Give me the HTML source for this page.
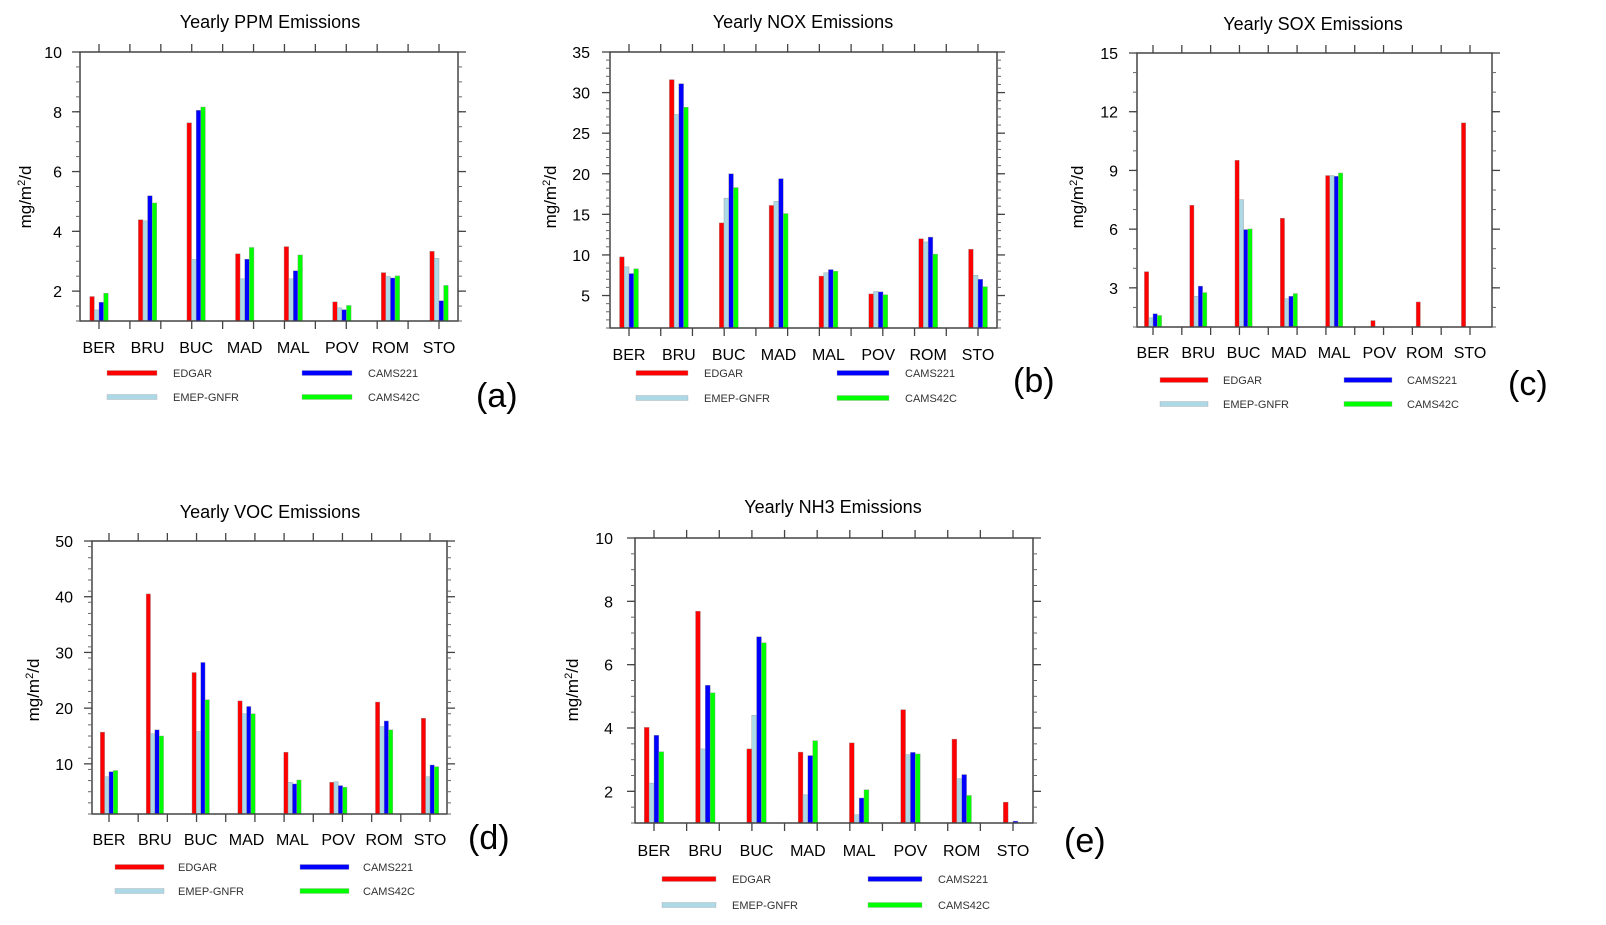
<!DOCTYPE html>
<html><head><meta charset="utf-8">
<style>
html,body{margin:0;padding:0;background:#fff;}
svg{display:block;font-family:"Liberation Sans",Arial,sans-serif;}
</style></head>
<body>
<svg id="fig" width="1606" height="925" viewBox="0 0 1606 925" xmlns="http://www.w3.org/2000/svg"></svg>
<script>
const categories = ["BER","BRU","BUC","MAD","MAL","POV","ROM","STO"];
const seriesNames = ["EDGAR","EMEP-GNFR","CAMS221","CAMS42C"];
const seriesColors = ["#ff0000","#add8e6","#0000ff","#00ff00"];

const ppmEDGAR   = [1.82,4.39,7.63,3.25,3.49,1.64,2.62,3.33];
const ppmEMEP    = [1.37,4.35,3.06,2.41,2.41,1.44,2.49,3.10];
const ppmCAMS221 = [1.63,5.19,8.05,3.07,2.68,1.38,2.44,1.68];
const ppmCAMS42C = [1.93,4.95,8.16,3.46,3.21,1.52,2.51,2.19];

const noxEDGAR   = [9.76,31.6,13.95,16.1,7.4,5.2,12.0,10.7];
const noxEMEP    = [8.53,27.3,17.0,16.6,7.8,5.5,11.6,7.5];
const noxCAMS221 = [7.71,31.1,20.0,19.4,8.2,5.45,12.2,7.0];
const noxCAMS42C = [8.29,28.2,18.3,15.1,8.0,5.1,10.1,6.1];

const soxEDGAR   = [3.83,7.22,9.52,6.56,8.74,1.33,2.28,11.43];
const soxEMEP    = [1.47,2.57,7.51,2.44,8.74,0,0,1.02];
const soxCAMS221 = [1.68,3.09,5.98,2.57,8.70,0,0,0];
const soxCAMS42C = [1.59,2.76,6.01,2.71,8.87,0,0,0];

const vocEDGAR   = [15.7,40.5,26.4,21.3,12.1,6.7,21.1,18.2];
const vocEMEP    = [7.7,15.4,15.8,19.0,6.7,6.8,16.7,7.7];
const vocCAMS221 = [8.6,16.1,28.2,20.3,6.4,6.1,17.7,9.8];
const vocCAMS42C = [8.8,15.0,21.5,19.0,7.1,5.8,16.1,9.5];

const nh3EDGAR   = [4.02,7.69,3.34,3.24,3.53,4.58,3.65,1.66];
const nh3EMEP    = [2.26,3.34,4.40,1.89,1.26,3.16,2.40,0];
const nh3CAMS221 = [3.77,5.35,6.88,3.13,1.79,3.23,2.53,1.06];
const nh3CAMS42C = [3.25,5.11,6.69,3.60,2.05,3.18,1.87,0];

const ppmTicks = [2,4,6,8,10];
const noxTicks = [5,10,15,20,25,30,35];
const soxTicks = [3,6,9,12,15];
const vocTicks = [10,20,30,40,50];
const nh3Ticks = [2,4,6,8,10];

const NS = "http://www.w3.org/2000/svg";
const svg = document.getElementById('fig');
function mk(tag, attrs, parent, text){
  const e = document.createElementNS(NS, tag);
  for (const k in attrs) e.setAttribute(k, attrs[k]);
  if (text !== undefined) e.textContent = text;
  (parent||svg).appendChild(e);
  return e;
}

function panel(p){
  const g = mk('g', {});
  
  
  const yScale = v => p.bottom - (v - p.ymin) / (p.ymax - p.ymin) * (p.bottom - p.top);
  const c0 = p.c0, c1 = p.c1, sp = (c1 - c0) / (categories.length - 1);
  const xScale = i => c0 + i * sp;
  const gw = sp * 0.38, bw = gw / 4;

  // title
  const t = mk('text', {x:p.tx, y:p.ty, 'text-anchor':'middle', 'font-size':18, fill:'#000'}, g, p.title);
  
  

  // bars
  p.series.forEach((arr, s) => {
    arr.forEach((v, i) => {
      if (v <= p.ymin) return;
      const x = xScale(i) - gw/2 + s*bw;
      const y = yScale(v);
      const r = mk('rect', {x:x, y:y, width:bw, height:p.bottom - y, fill:seriesColors[s], stroke:'#999', 'stroke-width':0.4}, g);
      
      
    });
  });

  // frame
  const fr = mk('rect', {x:p.left, y:p.top, width:p.right - p.left, height:p.bottom - p.top, fill:'none', stroke:'#444', 'stroke-width':1.5}, g);
  
  

  // x ticks (12 evenly between first and last centre)
  for (let k = 0; k < 12; k++){
    const x = c0 + k * (c1 - c0) / 11;
    mk('line', {x1:x, x2:x, y1:p.top, y2:p.top - 8, stroke:'#444', 'stroke-width':1.3}, g);
    mk('line', {x1:x, x2:x, y1:p.bottom, y2:p.bottom + 8, stroke:'#444', 'stroke-width':1.3}, g);
  }
  // y minor ticks
  for (let v = p.ymin; v <= p.ymax + 1e-9; v += p.minor){
    const y = yScale(v);
    mk('line', {x1:p.left, x2:p.left - 4, y1:y, y2:y, stroke:'#666', 'stroke-width':1}, g);
    mk('line', {x1:p.right, x2:p.right + 4, y1:y, y2:y, stroke:'#666', 'stroke-width':1}, g);
  }
  // y major ticks + labels
  p.ticks.forEach(v => {
    const y = yScale(v);
    mk('line', {x1:p.left, x2:p.left - 8, y1:y, y2:y, stroke:'#444', 'stroke-width':1.3}, g);
    mk('line', {x1:p.right, x2:p.right + 8, y1:y, y2:y, stroke:'#444', 'stroke-width':1.3}, g);
    const l = mk('text', {x:p.ylx, y:y + 6, 'text-anchor':'end', 'font-size':16, fill:'#000'}, g, String(v));
    
    
  });
  // category labels
  categories.forEach((c, i) => {
    const l = mk('text', {x:xScale(i), y:p.cly + 6, 'text-anchor':'middle', 'font-size':16, fill:'#000'}, g, c);
    
    
  });
  // y title
  const yt = mk('text', {x:0, y:0, 'text-anchor':'middle', 'font-size':17, fill:'#000', transform:'translate(' + (p.ytx + 6) + ',' + p.yty + ') rotate(-90)'}, g);
  
  
  mk('tspan', {}, yt, 'mg/m');
  mk('tspan', {dy:-6, 'font-size':11}, yt, '2');
  mk('tspan', {dy:6}, yt, '/d');

  // legend
  const lg = mk('g', {}, g);
  
  
  const pos = [[p.lx1, p.ly1],[p.lx1, p.ly2],[p.lx2, p.ly1],[p.lx2, p.ly2]];
  seriesNames.forEach((n, s) => {
    const [x, y] = pos[s];
    const e = mk('g', {}, lg);
    
    
    mk('rect', {x:x, y:y - 2.5, width:p.lw, height:5, fill:seriesColors[s], stroke:'#aaa', 'stroke-width':0.4}, e);
    mk('text', {x:x + p.lw + p.lgap, y:y + 4, 'font-size':11, fill:'#333'}, e, n);
  });
  // panel letter
  const pl = mk('text', {x:p.px, y:p.py + 12, 'font-size':34, fill:'#000'}, g, p.letter);
  
  
}

panel({key:'ppm', title:'Yearly PPM Emissions', series:[ppmEDGAR,ppmEMEP,ppmCAMS221,ppmCAMS42C], ticks:ppmTicks,
  ymin:1, ymax:10, minor:0.5, left:80, right:458, top:52, bottom:321, c0:99, c1:439,
  tx:270, ty:28, ylx:62, ytx:25, yty:197, cly:347, lx1:107, lx2:302, ly1:373, ly2:397, lw:50, lgap:16,
  px:476, py:395, letter:'(a)'});
panel({key:'nox', title:'Yearly NOX Emissions', series:[noxEDGAR,noxEMEP,noxCAMS221,noxCAMS42C], ticks:noxTicks,
  ymin:1, ymax:35, minor:1, left:610, right:997, top:52, bottom:328, c0:629, c1:978,
  tx:803, ty:28, ylx:590, ytx:550, yty:197, cly:354, lx1:636, lx2:837, ly1:373, ly2:398, lw:52, lgap:16,
  px:1013, py:380, letter:'(b)'});
panel({key:'sox', title:'Yearly SOX Emissions', series:[soxEDGAR,soxEMEP,soxCAMS221,soxCAMS42C], ticks:soxTicks,
  ymin:1, ymax:15, minor:1, left:1137, right:1492, top:53, bottom:327, c0:1153, c1:1470,
  tx:1313, ty:30, ylx:1118, ytx:1077, yty:197, cly:352, lx1:1160, lx2:1344, ly1:380, ly2:404, lw:48, lgap:15,
  px:1508, py:383, letter:'(c)'});
panel({key:'voc', title:'Yearly VOC Emissions', series:[vocEDGAR,vocEMEP,vocCAMS221,vocCAMS42C], ticks:vocTicks,
  ymin:1, ymax:50, minor:2, left:92, right:447, top:541, bottom:814, c0:109, c1:430,
  tx:270, ty:518, ylx:73, ytx:33, yty:690, cly:839, lx1:115, lx2:300, ly1:867, ly2:891, lw:49, lgap:14,
  px:468, py:837, letter:'(d)'});
panel({key:'nh3', title:'Yearly NH3 Emissions', series:[nh3EDGAR,nh3EMEP,nh3CAMS221,nh3CAMS42C], ticks:nh3Ticks,
  ymin:1, ymax:10, minor:0.5, left:635, right:1033, top:538, bottom:823, c0:654, c1:1013,
  tx:833, ty:513, ylx:613, ytx:572, yty:690, cly:850, lx1:662, lx2:868, ly1:879, ly2:905, lw:54, lgap:16,
  px:1064, py:840, letter:'(e)'});
</script>
</body></html>
